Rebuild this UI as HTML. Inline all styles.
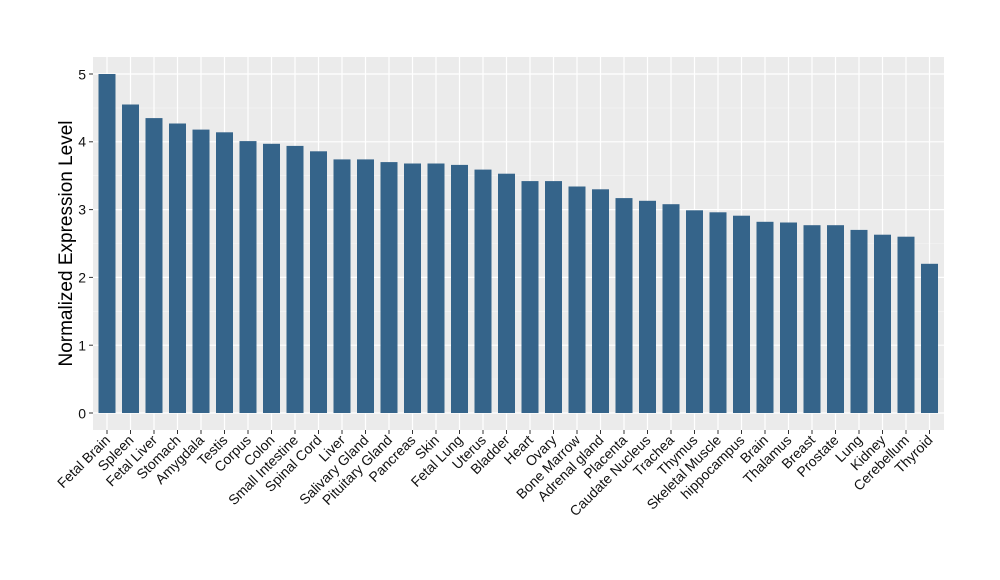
<!DOCTYPE html>
<html><head><meta charset="utf-8"><style>body{margin:0;background:#fff}svg{display:block}text{font-family:"Liberation Sans",sans-serif}</style></head><body>
<svg width="1000" height="580" xmlns="http://www.w3.org/2000/svg">
<rect x="93" y="57" width="851" height="373" fill="#EBEBEB"/>
<g stroke="#F5F5F5" stroke-width="0.6">
<line x1="93" x2="944" y1="379.1" y2="379.1"/><line x1="93" x2="944" y1="311.3" y2="311.3"/><line x1="93" x2="944" y1="243.5" y2="243.5"/><line x1="93" x2="944" y1="175.7" y2="175.7"/><line x1="93" x2="944" y1="107.9" y2="107.9"/>
</g>
<g stroke="#fff" stroke-width="1.2">
<line x1="93" x2="944" y1="413" y2="413"/><line x1="93" x2="944" y1="345.2" y2="345.2"/><line x1="93" x2="944" y1="277.4" y2="277.4"/><line x1="93" x2="944" y1="209.6" y2="209.6"/><line x1="93" x2="944" y1="141.8" y2="141.8"/><line x1="93" x2="944" y1="74" y2="74"/>
</g>
<g stroke="#fff" stroke-width="1.2">
<line y1="57" y2="430" x1="107" x2="107"/><line y1="57" y2="430" x1="130.5" x2="130.5"/><line y1="57" y2="430" x1="154" x2="154"/><line y1="57" y2="430" x1="177.5" x2="177.5"/><line y1="57" y2="430" x1="201" x2="201"/><line y1="57" y2="430" x1="224.5" x2="224.5"/><line y1="57" y2="430" x1="248" x2="248"/><line y1="57" y2="430" x1="271.5" x2="271.5"/><line y1="57" y2="430" x1="295" x2="295"/><line y1="57" y2="430" x1="318.5" x2="318.5"/><line y1="57" y2="430" x1="342" x2="342"/><line y1="57" y2="430" x1="365.5" x2="365.5"/><line y1="57" y2="430" x1="389" x2="389"/><line y1="57" y2="430" x1="412.5" x2="412.5"/><line y1="57" y2="430" x1="436" x2="436"/><line y1="57" y2="430" x1="459.5" x2="459.5"/><line y1="57" y2="430" x1="483" x2="483"/><line y1="57" y2="430" x1="506.5" x2="506.5"/><line y1="57" y2="430" x1="530" x2="530"/><line y1="57" y2="430" x1="553.5" x2="553.5"/><line y1="57" y2="430" x1="577" x2="577"/><line y1="57" y2="430" x1="600.5" x2="600.5"/><line y1="57" y2="430" x1="624" x2="624"/><line y1="57" y2="430" x1="647.5" x2="647.5"/><line y1="57" y2="430" x1="671" x2="671"/><line y1="57" y2="430" x1="694.5" x2="694.5"/><line y1="57" y2="430" x1="718" x2="718"/><line y1="57" y2="430" x1="741.5" x2="741.5"/><line y1="57" y2="430" x1="765" x2="765"/><line y1="57" y2="430" x1="788.5" x2="788.5"/><line y1="57" y2="430" x1="812" x2="812"/><line y1="57" y2="430" x1="835.5" x2="835.5"/><line y1="57" y2="430" x1="859" x2="859"/><line y1="57" y2="430" x1="882.5" x2="882.5"/><line y1="57" y2="430" x1="906" x2="906"/><line y1="57" y2="430" x1="929.5" x2="929.5"/>
</g>
<g fill="#35648A">
<rect x="98.5" y="74" width="17" height="339"/>
<rect x="122" y="104.5" width="17" height="308.5"/>
<rect x="145.5" y="118.1" width="17" height="294.9"/>
<rect x="169" y="123.5" width="17" height="289.5"/>
<rect x="192.5" y="129.6" width="17" height="283.4"/>
<rect x="216" y="132.3" width="17" height="280.7"/>
<rect x="239.5" y="141.1" width="17" height="271.9"/>
<rect x="263" y="143.8" width="17" height="269.2"/>
<rect x="286.5" y="145.9" width="17" height="267.1"/>
<rect x="310" y="151.3" width="17" height="261.7"/>
<rect x="333.5" y="159.4" width="17" height="253.6"/>
<rect x="357" y="159.4" width="17" height="253.6"/>
<rect x="380.5" y="162.1" width="17" height="250.9"/>
<rect x="404" y="163.5" width="17" height="249.5"/>
<rect x="427.5" y="163.5" width="17" height="249.5"/>
<rect x="451" y="164.9" width="17" height="248.1"/>
<rect x="474.5" y="169.6" width="17" height="243.4"/>
<rect x="498" y="173.7" width="17" height="239.3"/>
<rect x="521.5" y="181.1" width="17" height="231.9"/>
<rect x="545" y="181.1" width="17" height="231.9"/>
<rect x="568.5" y="186.5" width="17" height="226.5"/>
<rect x="592" y="189.3" width="17" height="223.7"/>
<rect x="615.5" y="198.1" width="17" height="214.9"/>
<rect x="639" y="200.8" width="17" height="212.2"/>
<rect x="662.5" y="204.2" width="17" height="208.8"/>
<rect x="686" y="210.3" width="17" height="202.7"/>
<rect x="709.5" y="212.3" width="17" height="200.7"/>
<rect x="733" y="215.7" width="17" height="197.3"/>
<rect x="756.5" y="221.8" width="17" height="191.2"/>
<rect x="780" y="222.5" width="17" height="190.5"/>
<rect x="803.5" y="225.2" width="17" height="187.8"/>
<rect x="827" y="225.2" width="17" height="187.8"/>
<rect x="850.5" y="229.9" width="17" height="183.1"/>
<rect x="874" y="234.7" width="17" height="178.3"/>
<rect x="897.5" y="236.7" width="17" height="176.3"/>
<rect x="921" y="263.8" width="17" height="149.2"/>
</g>
<g stroke="#333" stroke-width="1">
<line x1="89" x2="93" y1="413" y2="413"/><line x1="89" x2="93" y1="345.2" y2="345.2"/><line x1="89" x2="93" y1="277.4" y2="277.4"/><line x1="89" x2="93" y1="209.6" y2="209.6"/><line x1="89" x2="93" y1="141.8" y2="141.8"/><line x1="89" x2="93" y1="74" y2="74"/>
</g>
<g font-size="14" fill="#111" text-anchor="end">
<text x="86" y="418.5">0</text><text x="86" y="350.5">1</text><text x="86" y="282.5">2</text><text x="86" y="214.5">3</text><text x="86" y="146.5">4</text><text x="86" y="79.5">5</text>
</g>
<text transform="translate(72,243.5) rotate(-90)" font-size="19" text-anchor="middle" fill="#000">Normalized Expression Level</text>
<g font-size="14" fill="#111" text-anchor="end">
<text transform="translate(111,441) rotate(-45)">Fetal Brain</text>
<text transform="translate(134.5,441) rotate(-45)">Spleen</text>
<text transform="translate(158,441) rotate(-45)">Fetal Liver</text>
<text transform="translate(181.5,441) rotate(-45)">Stomach</text>
<text transform="translate(205,441) rotate(-45)">Amygdala</text>
<text transform="translate(228.5,441) rotate(-45)">Testis</text>
<text transform="translate(252,441) rotate(-45)">Corpus</text>
<text transform="translate(275.5,441) rotate(-45)">Colon</text>
<text transform="translate(299,441) rotate(-45)">Small Intestine</text>
<text transform="translate(322.5,441) rotate(-45)">Spinal Cord</text>
<text transform="translate(346,441) rotate(-45)">Liver</text>
<text transform="translate(369.5,441) rotate(-45)">Salivary Gland</text>
<text transform="translate(393,441) rotate(-45)">Pituitary Gland</text>
<text transform="translate(416.5,441) rotate(-45)">Pancreas</text>
<text transform="translate(440,441) rotate(-45)">Skin</text>
<text transform="translate(463.5,441) rotate(-45)">Fetal Lung</text>
<text transform="translate(487,441) rotate(-45)">Uterus</text>
<text transform="translate(510.5,441) rotate(-45)">Bladder</text>
<text transform="translate(534,441) rotate(-45)">Heart</text>
<text transform="translate(557.5,441) rotate(-45)">Ovary</text>
<text transform="translate(581,441) rotate(-45)">Bone Marrow</text>
<text transform="translate(604.5,441) rotate(-45)">Adrenal gland</text>
<text transform="translate(628,441) rotate(-45)">Placenta</text>
<text transform="translate(651.5,441) rotate(-45)">Caudate Nucleus</text>
<text transform="translate(675,441) rotate(-45)">Trachea</text>
<text transform="translate(698.5,441) rotate(-45)">Thymus</text>
<text transform="translate(722,441) rotate(-45)">Skeletal Muscle</text>
<text transform="translate(745.5,441) rotate(-45)">hippocampus</text>
<text transform="translate(769,441) rotate(-45)">Brain</text>
<text transform="translate(792.5,441) rotate(-45)">Thalamus</text>
<text transform="translate(816,441) rotate(-45)">Breast</text>
<text transform="translate(839.5,441) rotate(-45)">Prostate</text>
<text transform="translate(863,441) rotate(-45)">Lung</text>
<text transform="translate(886.5,441) rotate(-45)">Kidney</text>
<text transform="translate(910,441) rotate(-45)">Cerebellum</text>
<text transform="translate(933.5,441) rotate(-45)">Thyroid</text>
</g>
<g stroke="#333" stroke-width="1">
<line y1="430" y2="434" x1="107" x2="107"/><line y1="430" y2="434" x1="130.5" x2="130.5"/><line y1="430" y2="434" x1="154" x2="154"/><line y1="430" y2="434" x1="177.5" x2="177.5"/><line y1="430" y2="434" x1="201" x2="201"/><line y1="430" y2="434" x1="224.5" x2="224.5"/><line y1="430" y2="434" x1="248" x2="248"/><line y1="430" y2="434" x1="271.5" x2="271.5"/><line y1="430" y2="434" x1="295" x2="295"/><line y1="430" y2="434" x1="318.5" x2="318.5"/><line y1="430" y2="434" x1="342" x2="342"/><line y1="430" y2="434" x1="365.5" x2="365.5"/><line y1="430" y2="434" x1="389" x2="389"/><line y1="430" y2="434" x1="412.5" x2="412.5"/><line y1="430" y2="434" x1="436" x2="436"/><line y1="430" y2="434" x1="459.5" x2="459.5"/><line y1="430" y2="434" x1="483" x2="483"/><line y1="430" y2="434" x1="506.5" x2="506.5"/><line y1="430" y2="434" x1="530" x2="530"/><line y1="430" y2="434" x1="553.5" x2="553.5"/><line y1="430" y2="434" x1="577" x2="577"/><line y1="430" y2="434" x1="600.5" x2="600.5"/><line y1="430" y2="434" x1="624" x2="624"/><line y1="430" y2="434" x1="647.5" x2="647.5"/><line y1="430" y2="434" x1="671" x2="671"/><line y1="430" y2="434" x1="694.5" x2="694.5"/><line y1="430" y2="434" x1="718" x2="718"/><line y1="430" y2="434" x1="741.5" x2="741.5"/><line y1="430" y2="434" x1="765" x2="765"/><line y1="430" y2="434" x1="788.5" x2="788.5"/><line y1="430" y2="434" x1="812" x2="812"/><line y1="430" y2="434" x1="835.5" x2="835.5"/><line y1="430" y2="434" x1="859" x2="859"/><line y1="430" y2="434" x1="882.5" x2="882.5"/><line y1="430" y2="434" x1="906" x2="906"/><line y1="430" y2="434" x1="929.5" x2="929.5"/>
</g>
</svg>
</body></html>
